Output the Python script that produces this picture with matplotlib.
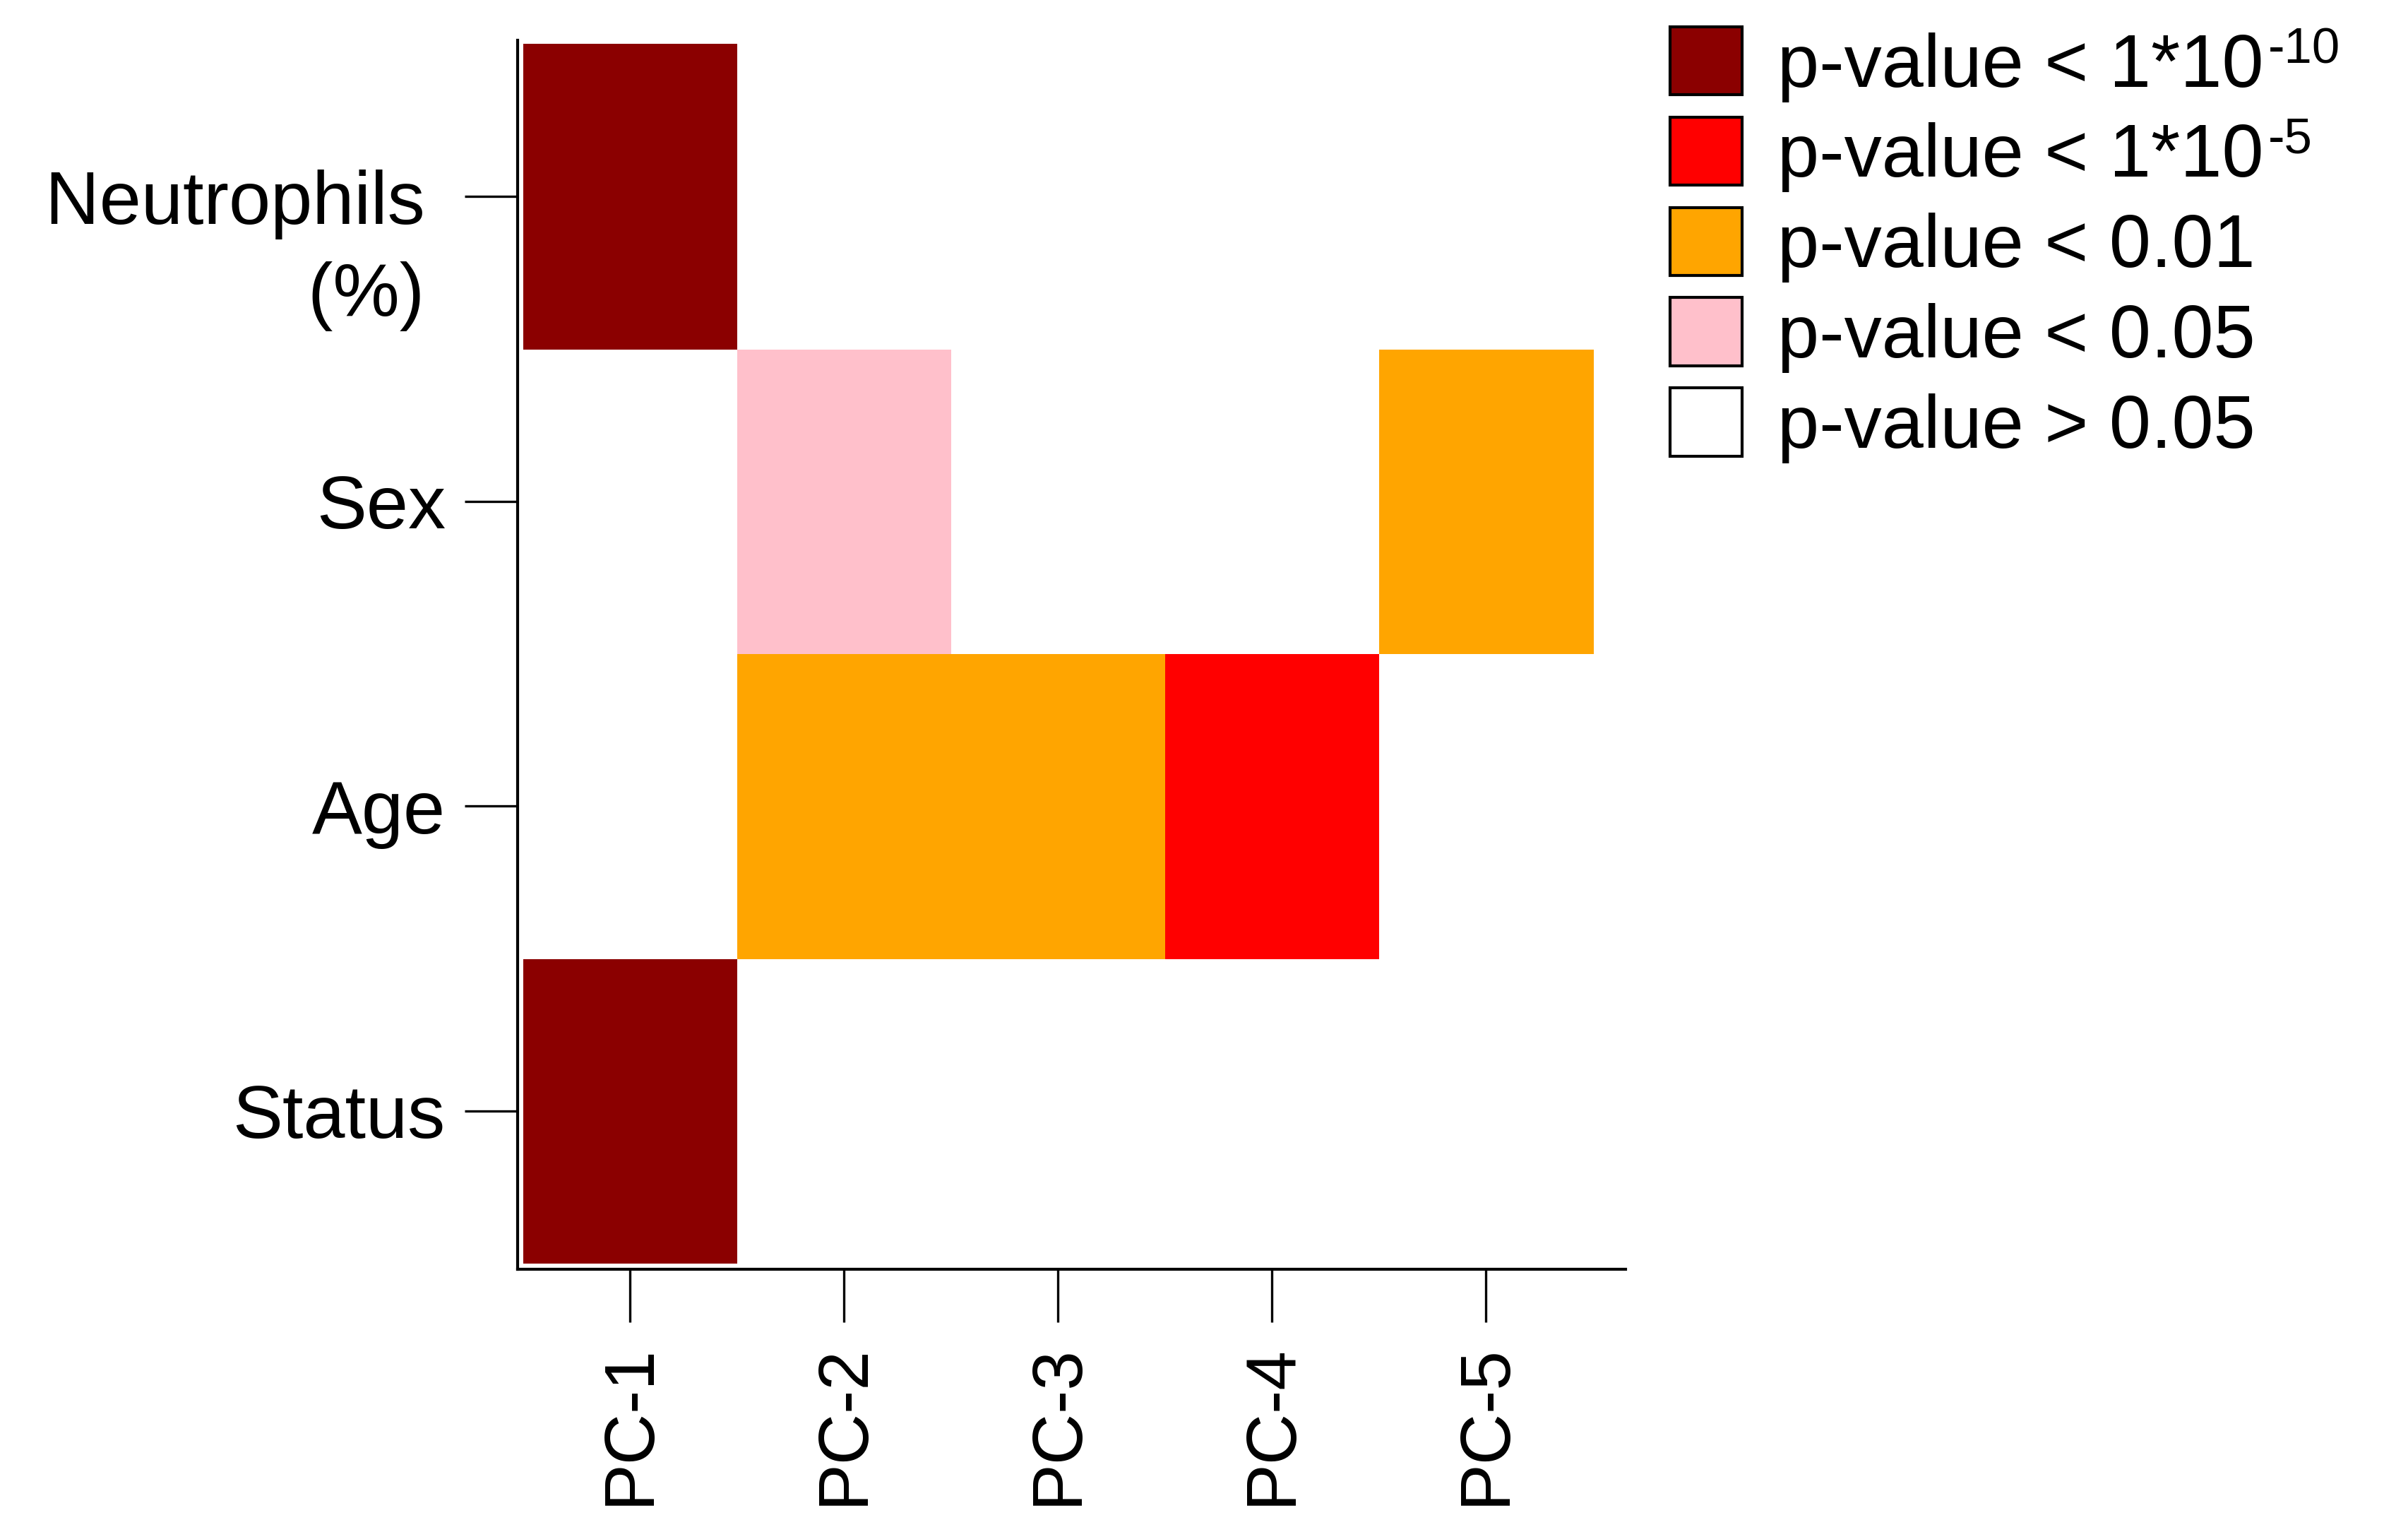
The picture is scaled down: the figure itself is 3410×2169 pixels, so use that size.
import numpy as np
import matplotlib
matplotlib.use('Agg')
import matplotlib.pyplot as plt
from matplotlib.colors import ListedColormap
from matplotlib.patches import Patch
from matplotlib.text import Annotation

plt.rcParams['font.family'] = ['Liberation Sans', 'DejaVu Sans']

# Datos
pcs = ['PC-1', 'PC-2', 'PC-3', 'PC-4', 'PC-5']
variables = ['Status', 'Age', 'Sex', 'Neutrophils ']   # de abajo hacia arriba
# nivel de significancia: 0 = >0.05, 1 = <0.05, 2 = <0.01, 3 = <1e-5, 4 = <1e-10
status = [4, 0, 0, 0, 0]
age = [0, 2, 2, 3, 0]
sex = [0, 1, 0, 0, 2]
neutrophils = [4, 0, 0, 0, 0]

level_colors = ['#FFFFFF', '#FFC0CB', '#FFA500', '#FF0000', '#8B0000']
legend_labels = ['p-value < 1*10', 'p-value < 1*10',
                 'p-value < 0.01', 'p-value < 0.05', 'p-value > 0.05']
legend_sup = ['-10', '-5', '', '', '']

matrix = np.array([status, age, sex, neutrophils])
cmap = ListedColormap(level_colors)

fig = plt.figure(figsize=(3411 / 300, 2169 / 300), dpi=300)
ax = fig.add_axes([733 / 3411, 1 - 1797 / 2169, (2302 - 733) / 3411, (1797 - 57) / 2169])

ax.imshow(matrix, cmap=cmap, vmin=-0.5, vmax=4.5, origin='lower',
          aspect='auto', interpolation='nearest')
ax.set_xlim(-0.526, 4.652)
ax.set_ylim(-0.519, 3.512)

ax.set_xticks(range(len(pcs)))
ax.set_xticklabels(pcs, rotation=90, fontsize=24)
ax.set_yticks(range(len(variables)))
ax.set_yticklabels(variables, fontsize=25.5)

# segunda linea de la etiqueta de neutrofilos
ax.annotate('(%) ', xy=(0, 3), xycoords=('axes fraction', 'data'),
            xytext=(-24.5, -34), textcoords='offset points',
            ha='right', va='center', fontsize=25.5)

ax.tick_params(axis='both', direction='out', length=18, width=0.8)
ax.tick_params(axis='y', pad=6.5)
ax.tick_params(axis='x', pad=7.5)

for s in ['top', 'right']:
    ax.spines[s].set_visible(False)
for s in ['left', 'bottom']:
    ax.spines[s].set_linewidth(1.0)

# Leyenda
handles = [Patch(facecolor=level_colors[i], edgecolor='black', linewidth=1.0)
           for i in [4, 3, 2, 1, 0]]
leg = fig.legend(handles, legend_labels, loc='upper left',
                 bbox_to_anchor=(2365 / 3411, 1 - 38 / 2169), frameon=False,
                 borderpad=0, borderaxespad=0, fontsize=25.5,
                 handlelength=0.96, handleheight=1.02, handletextpad=0.47,
                 labelspacing=0.2)

# exponentes con guion normal
for txt, sup in zip(leg.get_texts(), legend_sup):
    if sup:
        ann = Annotation(sup, xy=(1, 0), xycoords=txt, xytext=(1.5, 13.3),
                         textcoords='offset points', ha='left', va='baseline',
                         fontsize=17, zorder=6)
        fig.add_artist(ann)

fig.canvas.draw()
fig.savefig('out.png', dpi=300)
